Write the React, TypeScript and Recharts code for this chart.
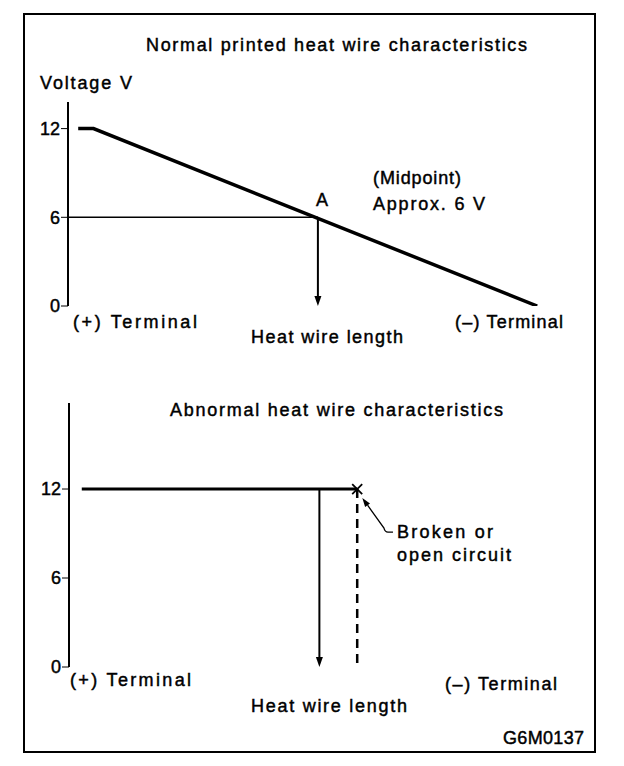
import { Line, LineChart, ReferenceDot, ReferenceLine, XAxis, YAxis } from 'recharts'

// heat wire length in % of the wire (0 = (+) terminal end of axis), voltage in V
const normalLength = [2, 5, 92]
const normalVolts = [12, 12, 0]
const abnormalLength = [2.5, 56.4]
const abnormalVolts = [12, 12]
const voltTicks = [0, 6, 12]
const midLength = 49
const midVolts = 6
const probeLength = 49
const breakLength = 56.4
const breakVolts = 12
const leaderFrom = { x: 63.4, y: 9.1 }
const leaderTo = { x: 57.4, y: 11.4 }

const normalData = normalLength.map((x, i) => ({ x, v: normalVolts[i] }))
const abnormalData = abnormalLength.map((x, i) => ({ x, v: abnormalVolts[i] }))

const FONT = '"Liberation Sans", Arial, Helvetica, sans-serif'
const txt = { fontFamily: FONT, fontSize: 18, fill: '#000', stroke: '#000', strokeWidth: 0.45 }

function Arrow(props: any) {
  const { x1, y1, x2, y2 } = props
  const a = Math.atan2(y2 - y1, x2 - x1)
  const len = 10
  const w = 3.5
  const bx = x2 - len * Math.cos(a)
  const by = y2 - len * Math.sin(a)
  const px = -Math.sin(a) * w
  const py = Math.cos(a) * w
  return (
    <g>
      <line x1={x1} y1={y1} x2={bx} y2={by} stroke="#000" strokeWidth={2} />
      <polygon points={`${x2},${y2} ${bx + px},${by + py} ${bx - px},${by - py}`} fill="#000" />
    </g>
  )
}

function Leader(props: any) {
  const { x1, y1, x2, y2 } = props
  const a = Math.atan2(y2 - (y1 - 4), x2 - (x1 - 9))
  const len = 9
  const w = 3
  const bx = x2 - len * Math.cos(a)
  const by = y2 - len * Math.sin(a)
  const px = -Math.sin(a) * w
  const py = Math.cos(a) * w
  return (
    <g fill="none" stroke="#000" strokeWidth={1.3}>
      <path d={`M${x1},${y1} L${x1 - 5},${y1} Q${x1 - 8},${y1} ${x1 - 9},${y1 - 4} L${bx},${by}`} />
      <polygon points={`${x2},${y2} ${bx + px},${by + py} ${bx - px},${by - py}`} fill="#000" stroke="none" />
    </g>
  )
}

function Cross(props: any) {
  const { cx, cy } = props
  const s = 5
  return (
    <g stroke="#000" strokeWidth={1.8}>
      <line x1={cx - s} y1={cy - s} x2={cx + s} y2={cy + s} />
      <line x1={cx - s} y1={cy + s} x2={cx + s} y2={cy - s} />
    </g>
  )
}

const axisProps = { stroke: '#000', strokeWidth: 2 }
const yTick = { fontFamily: FONT, fontSize: 18, fill: '#000', stroke: '#000', strokeWidth: 0.45 }

export default function App() {
  return (
    <div style={{ position: 'absolute', left: 0, top: 0, width: 624, height: 766, background: '#fff' }}>
      <div style={{ position: 'absolute', left: 0, top: 0 }}>
        <LineChart width={624} height={380} data={normalData} margin={{ top: 102, right: 46, bottom: 74, left: 8 }}>
          <XAxis dataKey="x" type="number" domain={[0, 100]} tick={false} tickLine={false} height={0} axisLine={axisProps} />
          <YAxis
            type="number"
            domain={[0, 13.8]}
            ticks={voltTicks}
            width={60}
            tickSize={7}
            tickMargin={1}
            tick={yTick}
            tickLine={{ stroke: '#000', strokeWidth: 1 }}
            axisLine={axisProps}
            allowDataOverflow
          />
          <ReferenceLine segment={[{ x: 0, y: midVolts }, { x: midLength, y: midVolts }]} stroke="#000" strokeWidth={1.5} />
          <ReferenceLine segment={[{ x: midLength, y: midVolts }, { x: midLength, y: 0 }]} shape={Arrow} />
          <Line dataKey="v" type="linear" stroke="#000" strokeWidth={3.5} dot={false} isAnimationActive={false} />
        </LineChart>
      </div>
      <div style={{ position: 'absolute', left: 0, top: 380 }}>
        <LineChart width={624} height={386} data={abnormalData} margin={{ top: 23, right: 44, bottom: 99, left: 9 }}>
          <XAxis dataKey="x" type="number" domain={[0, 100]} tick={false} tickLine={false} height={0} axisLine={axisProps} />
          <YAxis
            type="number"
            domain={[0, 17.8]}
            ticks={voltTicks}
            width={60}
            tickSize={7}
            tickMargin={1}
            tick={yTick}
            tickLine={{ stroke: '#000', strokeWidth: 1 }}
            axisLine={axisProps}
            allowDataOverflow
          />
          <ReferenceLine segment={[{ x: probeLength, y: breakVolts }, { x: probeLength, y: 0 }]} shape={Arrow} />
          <ReferenceLine
            segment={[{ x: breakLength, y: breakVolts }, { x: breakLength, y: 0 }]}
            stroke="#000"
            strokeWidth={2.5}
            strokeDasharray="9 6"
          />
          <ReferenceLine segment={[leaderFrom, leaderTo]} shape={Leader} />
          <Line dataKey="v" type="linear" stroke="#000" strokeWidth={3} dot={false} isAnimationActive={false} />
          <ReferenceDot x={breakLength} y={breakVolts} r={5} shape={Cross} />
        </LineChart>
      </div>
      <svg width={624} height={766} style={{ position: 'absolute', left: 0, top: 0, pointerEvents: 'none' }}>
        <rect x={24} y={14} width={571} height={738} fill="none" stroke="#000" strokeWidth={2} />
        <g style={txt}>
          <text x={146} y={51} textLength={381} lengthAdjust="spacing">Normal printed heat wire characteristics</text>
          <text x={40} y={89} textLength={92} lengthAdjust="spacing">Voltage V</text>
          <text x={373} y={184} textLength={88} lengthAdjust="spacing">(Midpoint)</text>
          <text x={373} y={210} textLength={112} lengthAdjust="spacing">Approx. 6 V</text>
          <text x={316} y={206}>A</text>
          <text x={73} y={328} textLength={124} lengthAdjust="spacing">(+) Terminal</text>
          <text x={251} y={343} textLength={152} lengthAdjust="spacing">Heat wire length</text>
          <text x={455} y={328} textLength={108} lengthAdjust="spacing">(–) Terminal</text>
          <text x={170} y={416} textLength={333} lengthAdjust="spacing">Abnormal heat wire characteristics</text>
          <text x={397} y={538} textLength={96} lengthAdjust="spacing">Broken or</text>
          <text x={397} y={561} textLength={114} lengthAdjust="spacing">open circuit</text>
          <text x={70} y={686} textLength={121} lengthAdjust="spacing">(+) Terminal</text>
          <text x={445} y={690} textLength={112} lengthAdjust="spacing">(–) Terminal</text>
          <text x={251} y={712} textLength={156} lengthAdjust="spacing">Heat wire length</text>
          <text x={503} y={744} textLength={81} lengthAdjust="spacing">G6M0137</text>
        </g>
      </svg>
    </div>
  )
}
